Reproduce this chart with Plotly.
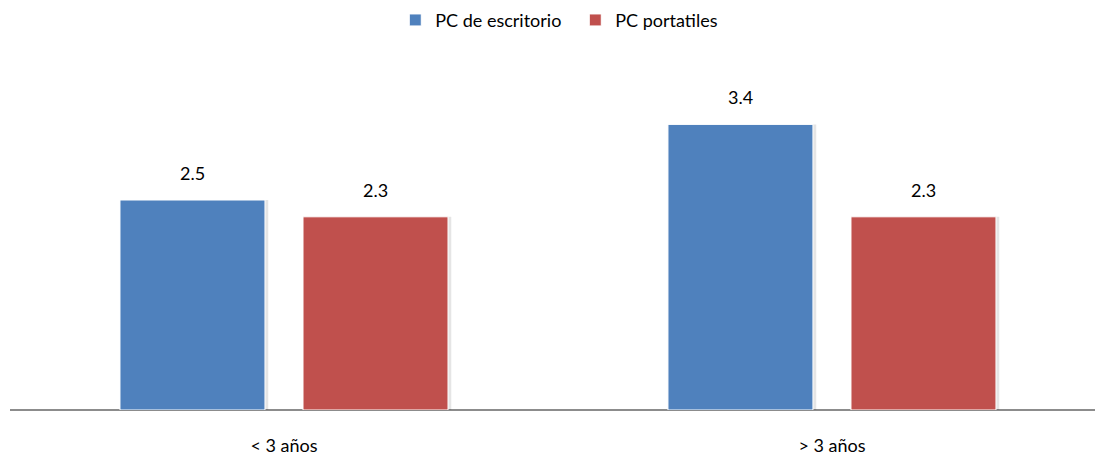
import plotly.graph_objects as go

categories = ["< 3 años", "> 3 años"]
series_names = ["PC de escritorio", "PC portatiles"]
escritorio = [2.5, 3.4]
portatiles = [2.3, 2.3]

colors = ["#4F81BD", "#C0504D"]
font_family = "Lato, Open Sans, sans-serif"

x_pos = list(range(len(categories)))
bar_width = 0.2646
offsets = [-0.2993, 0.0347]

fig = go.Figure()

# soft drop shadow behind each bar
for vals, off in zip([escritorio, portatiles], offsets):
    fig.add_trace(go.Bar(
        x=x_pos, y=vals, width=bar_width + 0.006, offset=off,
        marker=dict(color="rgba(0,0,0,0.10)", line=dict(width=0)),
        showlegend=False, hoverinfo="skip",
    ))

for name, vals, col, off in zip(series_names, [escritorio, portatiles], colors, offsets):
    fig.add_trace(go.Bar(
        x=x_pos, y=vals, name=name, width=bar_width, offset=off,
        marker=dict(color=col, line=dict(color="white", width=1)),
    ))
    for xi, v in zip(x_pos, vals):
        fig.add_annotation(
            x=xi + off + bar_width / 2, y=v, text=f"{v:.1f}",
            showarrow=False, yshift=27,
            font=dict(family=font_family, size=18, color="#000000"),
        )

fig.update_layout(
    width=1095, height=455,
    margin=dict(l=10, r=0, t=74, b=45),
    barmode="overlay",
    plot_bgcolor="white", paper_bgcolor="white",
    font=dict(family=font_family, size=18, color="#000000"),
    legend=dict(
        orientation="h", x=0.521, xanchor="center", y=1.16, yanchor="middle",
        font=dict(family=font_family, size=18), traceorder="normal",
        itemwidth=30, entrywidth=135, entrywidthmode="pixels",
    ),
    xaxis=dict(
        range=[-0.5, 1.48], tickvals=x_pos, ticktext=categories,
        showgrid=False, zeroline=False, showline=False, automargin=False,
        ticks="outside", ticklen=19, tickcolor="rgba(0,0,0,0)",
        tickfont=dict(family=font_family, size=18),
    ),
    yaxis=dict(
        range=[0, 4], showgrid=False, zeroline=True, zerolinecolor="#8c8c8c",
        zerolinewidth=2, showticklabels=False, showline=False, automargin=False,
    ),
)

fig.write_html("out.html")
